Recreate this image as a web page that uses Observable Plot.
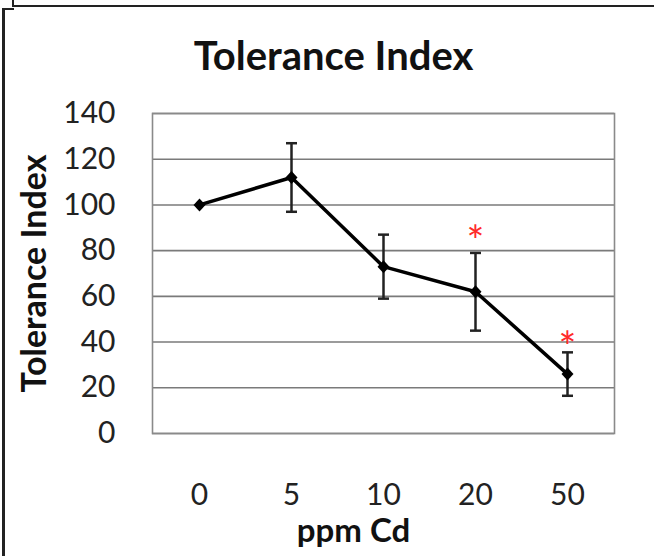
<!DOCTYPE html>
<html>
<head>
<meta charset="utf-8">
<script src="https://cdn.jsdelivr.net/npm/d3@7"></script>
<script src="https://cdn.jsdelivr.net/npm/@observablehq/plot@0.6"></script>
<style>
  html, body { margin: 0; padding: 0; background: #fff; }
  #wrap { position: relative; width: 654px; height: 556px; overflow: hidden; background: #fff; }
  .b { position: absolute; background: #222; }
</style>
</head>
<body>
<div id="wrap">
  <div class="b" style="left:12px; top:5px; width:642px; height:2px;"></div>
  <div class="b" style="left:12px; top:0px; width:2px; height:7px;"></div>
  <div class="b" style="left:2px; top:8px; width:12px; height:2px;"></div>
  <div class="b" style="left:2px; top:8px; width:2.5px; height:548px;"></div>
</div>
<script>
const doses = ["0", "5", "10", "20", "50"];
const means = [100, 112, 73, 62, 26];
const errors = [null, 15, 14, 17, 9.5];
const stars = ["", "", "", "*", "*"];
const starY = [null, null, null, 88, 41.4];
const yTicks = [0, 20, 40, 60, 80, 100, 120, 140];
const title = "Tolerance Index";
const yLabel = "Tolerance Index";
const xLabel = "ppm Cd";

const data = doses.map((d, i) => ({dose: d, mean: means[i], err: errors[i], star: stars[i], sy: starY[i]}));
const withErr = data.filter(d => d.err != null);
const withStar = data.filter(d => d.star);

const capSymbol = {
  draw(ctx) { ctx.moveTo(-5.5, 0); ctx.lineTo(5.5, 0); }
};
const diamondSymbol = {
  draw(ctx) { ctx.moveTo(0, -6.5); ctx.lineTo(6, 0); ctx.lineTo(0, 6.5); ctx.lineTo(-6, 0); ctx.closePath(); }
};

const chart = Plot.plot({
  width: 654,
  height: 556,
  marginLeft: 152,
  marginRight: 40,
  marginTop: 113,
  marginBottom: 123,
  style: {fontFamily: "Lato, 'Open Sans', sans-serif", fontSize: "30px", color: "#222", background: "transparent"},
  x: {type: "point", domain: doses, padding: 0.5, label: null},
  y: {domain: [0, 140], label: null},
  marks: [
    Plot.gridY(yTicks, {stroke: "#7a7a7a", strokeOpacity: 1, strokeWidth: 1.6}),
    Plot.frame({stroke: "#8a8a8a", strokeWidth: 1.6}),
    Plot.axisY(yTicks, {tickSize: 0, tickPadding: 37, fontSize: 30, fill: "#222", label: null}),
    Plot.axisX(doses, {tickSize: 0, tickPadding: 50, fontSize: 30, fill: "#222", label: null}),
    Plot.ruleX(withErr, {x: "dose", y1: d => d.mean - d.err, y2: d => d.mean + d.err, stroke: "#222", strokeWidth: 2.5}),
    Plot.dot(withErr, {x: "dose", y: d => d.mean - d.err, symbol: capSymbol, stroke: "#222", strokeWidth: 2.5, fill: "none"}),
    Plot.dot(withErr, {x: "dose", y: d => d.mean + d.err, symbol: capSymbol, stroke: "#222", strokeWidth: 2.5, fill: "none"}),
    Plot.line(data, {x: "dose", y: "mean", stroke: "#000", strokeWidth: 3.5}),
    Plot.dot(data, {x: "dose", y: "mean", symbol: diamondSymbol, fill: "#000", stroke: "none"}),
    Plot.text(withStar, {x: "dose", y: "sy", text: "star", fill: "#ff2a2a", fontSize: 42, lineAnchor: "middle", dy: 10}),
    Plot.text([title], {frameAnchor: "top", dx: -50, dy: -56, lineAnchor: "middle", textAnchor: "middle", fontSize: 40, fontWeight: "bold", fill: "#111", style: "letter-spacing:0.4px"}),
    Plot.text([yLabel], {frameAnchor: "left", dx: -117, rotate: -90, lineAnchor: "middle", textAnchor: "middle", fontSize: 34, fontWeight: "bold", fill: "#111"}),
    Plot.text([xLabel], {frameAnchor: "bottom", dx: -30, dy: 98, lineAnchor: "middle", textAnchor: "middle", fontSize: 33, fontWeight: "bold", fill: "#111"})
  ]
});
document.getElementById("wrap").appendChild(chart);
</script>
</body>
</html>
